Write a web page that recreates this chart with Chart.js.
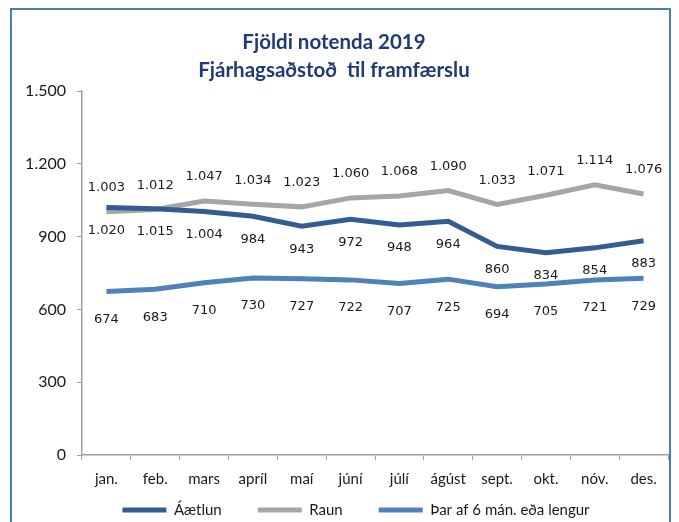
<!DOCTYPE html>
<html>
<head>
<meta charset="utf-8">
<script src="https://cdn.jsdelivr.net/npm/chart.js@4"></script>
<style>
html,body{margin:0;padding:0;background:#fff;}
#wrap{position:relative;width:679px;height:522px;overflow:hidden;}
#frame{position:absolute;left:10px;top:8px;width:661px;height:540px;border:2px solid #4A7EBB;box-sizing:border-box;pointer-events:none;}
canvas{position:absolute;left:0;top:0;}
</style>
</head>
<body>
<div id="wrap">
<canvas id="c" width="679" height="522"></canvas>
<div id="frame"></div>
</div>
<script>
const categories = ["jan.","feb.","mars","apríl","maí","júní","júlí","ágúst","sept.","okt.","nóv.","des."];
const aaetlun = [1020,1015,1004,984,943,972,948,964,860,834,854,883];
const raun = [1003,1012,1047,1034,1023,1060,1068,1090,1033,1071,1114,1076];
const tharaf = [674,683,710,730,727,722,707,725,694,705,721,729];
const seriesNames = ["Áætlun","Raun","Þar af 6 mán. eða lengur"];
const titleLines = ["Fjöldi notenda 2019","Fjárhagsaðstoð  til framfærslu"];
const yTicks = [0,300,600,900,1200,1500];

function fmt(v){
  const s = String(Math.round(v));
  return s.replace(/\B(?=(\d{3})+(?!\d))/g, ".");
}

// label offsets (px) relative to the point: negative = above
const labelOffsets = [23, -24, 28];

const dataLabels = {
  id: 'dataLabels',
  afterDatasetsDraw(chart){
    const ctx = chart.ctx;
    ctx.save();
    ctx.font = '13px "DejaVu Sans", sans-serif';
    ctx.fillStyle = '#1a1a1a';
    ctx.textAlign = 'center';
    ctx.textBaseline = 'middle';
    chart.data.datasets.forEach((ds, i) => {
      const meta = chart.getDatasetMeta(i);
      meta.data.forEach((pt, j) => {
        ctx.fillText(fmt(ds.data[j]), pt.x, pt.y + labelOffsets[i]);
      });
    });
    ctx.restore();
  }
};

// let the x-axis labels extend below the (short) axis box without being clipped,
// and nudge the legend row to the right like in the original
const layoutTweaks = {
  id: 'layoutTweaks',
  afterLayout(chart){
    const x = chart.scales.x;
    if (x) x.bottom = chart.height;
    if (chart.legend) chart.legend.left += 44;
  }
};

new Chart(document.getElementById('c'), {
  type: 'line',
  data: {
    labels: categories,
    datasets: [
      {label: seriesNames[0], data: aaetlun, borderColor: '#325D93', backgroundColor: '#325D93', borderWidth: 5, pointRadius: 0, tension: 0},
      {label: seriesNames[1], data: raun, borderColor: '#A6A6A6', backgroundColor: '#A6A6A6', borderWidth: 5, pointRadius: 0, tension: 0},
      {label: seriesNames[2], data: tharaf, borderColor: '#4F81BD', backgroundColor: '#4F81BD', borderWidth: 5, pointRadius: 0, tension: 0}
    ]
  },
  options: {
    responsive: false,
    animation: false,
    devicePixelRatio: 1,
    layout: {padding: {left: 0, right: 11, top: 0, bottom: 0}},
    plugins: {
      title: {
        display: true,
        text: titleLines,
        color: '#1F3B73',
        font: {family: 'Lato, "Open Sans", sans-serif', size: 20.5, weight: 'bold', lineHeight: 1.37},
        padding: {top: 28, bottom: 7}
      },
      legend: {
        position: 'bottom',
        maxHeight: 55.5,
        labels: {
          font: {family: 'Lato, sans-serif', size: 15},
          color: '#1a1a1a',
          boxWidth: 44,
          boxHeight: 5,
          padding: 36,
          generateLabels(chart){
            return Chart.defaults.plugins.legend.labels.generateLabels(chart).map(l => Object.assign(l, {lineWidth: 0}));
          }
        }
      },
      tooltip: {enabled: false}
    },
    scales: {
      x: {
        offset: true,
        grid: {display: true, drawOnChartArea: false, offset: true, tickLength: 5, color: '#A0A0A0', tickColor:'#A0A0A0'},
        border: {display: true, color: '#A0A0A0', width: 1.5},
        ticks: {font: {family: 'Lato, sans-serif', size: 15}, color: '#1a1a1a', padding: 10, maxRotation: 0, autoSkip: false},
        afterFit(s){ s.height = 11.5; }
      },
      y: {
        min: 0, max: 1500,
        afterBuildTicks(s){ s.ticks = yTicks.map(v => ({value: v})); },
        grid: {display: true, drawOnChartArea: false, tickLength: 5, color: '#A0A0A0', tickColor:'#A0A0A0'},
        border: {display: true, color: '#A0A0A0', width: 1.5},
        ticks: {font: {family: 'Lato, sans-serif', size: 16}, color: '#1a1a1a', padding: 11, callback: v => fmt(v)},
        afterFit(s){ s.width = 82; }
      }
    }
  },
  plugins: [dataLabels, layoutTweaks]
});
</script>
</body>
</html>
